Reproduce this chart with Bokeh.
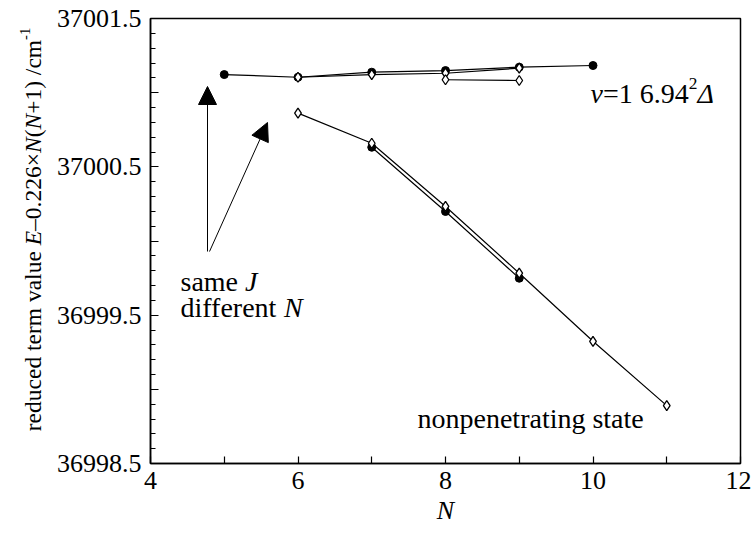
import math
from bokeh.plotting import figure
from bokeh.layouts import row
from bokeh.models import Label, Arrow, NormalHead, FixedTicker, CustomJSTickFormatter
from bokeh.embed import file_html
from bokeh.resources import INLINE

# ---------------- data ----------------
N_up_filled = [5, 6, 7, 8, 9, 10]
E_up_filled = [37001.122, 37001.104, 37001.138, 37001.149, 37001.172, 37001.183]

N_up_diam_a = [6, 7, 8, 9]
E_up_diam_a = [37001.104, 37001.122, 37001.131, 37001.165]

N_up_diam_b = [8, 9]
E_up_diam_b = [37001.087, 37001.082]

N_low_diam = [6, 7, 8, 9, 10, 11]
E_low_diam = [37000.862, 37000.659, 37000.233, 36999.783, 36999.324, 36998.890]

N_low_filled = [7, 8, 9]
E_low_filled = [37000.632, 37000.199, 36999.749]

x_major = [4, 6, 8, 10, 12]
x_minor = [5, 7, 9, 11]
y_major = [36998.5, 36999.0, 36999.5, 37000.0, 37000.5, 37001.0, 37001.5]
y_minor = [round(36998.5 + 0.1 * i, 1) for i in range(31)]

# ---------------- layout ----------------
W, H = 751, 533
OFF = 50                       # width of the strip holding the y-axis title
L, R, T, B = 150, 11, 18, 70   # frame margins in page pixels
XR = (4, 12)
YR = (36998.5, 37001.5)
FW = W - L - R
FH = H - T - B
FONT = "Liberation Serif"


def dx(px):
    return XR[0] + (px - L) * (XR[1] - XR[0]) / FW


def dy(py):
    return YR[1] - (py - T) * (YR[1] - YR[0]) / FH


REG = {' ': 250, '(': 333, ')': 333, '+': 564, '-': 333, '.': 250, '/': 278,
       '=': 564, '\u00d7': 564, '\u2013': 500, '\u0394': 612,
       'a': 444, 'b': 500, 'c': 444, 'd': 500, 'e': 444, 'f': 333, 'g': 500,
       'h': 500, 'i': 278, 'j': 278, 'k': 500, 'l': 278, 'm': 778, 'n': 500,
       'o': 500, 'p': 500, 'q': 500, 'r': 333, 's': 389, 't': 278, 'u': 500,
       'v': 500, 'w': 722, 'x': 500, 'y': 500, 'z': 444,
       'E': 611, 'N': 722, 'J': 389}
ITA = {'E': 611, 'N': 667, 'J': 444, 'v': 444, '\u0394': 612}


def tw(s, italic, size):
    total = 0
    for c in s:
        if italic and c in ITA:
            total += ITA[c]
        else:
            total += REG.get(c, 500)
    return total * size / 1000.0


def rich(fig, pieces, px, py, size, vertical=False):
    """Place mixed-style text at canvas pixels (px, py) of the given figure."""
    pos = 0.0
    for txt, ital, sup in pieces:
        fs = size * 0.62 if sup else size
        rise = size * 0.34 if sup else 0
        stripped = txt.lstrip()
        lead = txt[:len(txt) - len(stripped)]
        pos += tw(lead, ital, fs)
        shown = stripped.rstrip()
        if shown:
            if vertical:
                ax, ay = px - rise, py - pos
            else:
                ax, ay = px + pos, py - rise
            fig.add_layout(Label(x=ax, y=ay, x_units="canvas", y_units="canvas",
                                 text=shown,
                                 angle=math.pi / 2 if vertical else 0,
                                 text_font=FONT, text_font_size=f"{fs:.1f}px",
                                 text_font_style="italic" if ital else "normal",
                                 text_baseline="alphabetic", text_align="left",
                                 text_color="black"))
        pos += tw(stripped, ital, fs)
    return pos


# ---- strip with the y-axis title ----
lab = figure(width=OFF, height=H, x_range=(0, 1), y_range=(0, 1),
             x_axis_type=None, y_axis_type=None,
             output_backend="svg", toolbar_location=None,
             min_border=0, min_border_left=0, min_border_right=0,
             min_border_top=0, min_border_bottom=0)
lab.outline_line_color = None
lab.xgrid.visible = False
lab.ygrid.visible = False
lab.background_fill_color = "white"
lab.border_fill_color = "white"

ylab = [("reduced term value ", False, False), ("E", True, False),
        ("\u20130.226\u00d7", False, False), ("N", True, False), ("(", False, False),
        ("N", True, False), ("+1) /cm", False, False), ("-1", False, True)]
YFS = 23.5
total = sum(tw(t, i, YFS * 0.62 if s else YFS) for t, i, s in ylab)
rich(lab, ylab, 32, 229 + total / 2, YFS, vertical=True)

# ---- main plot ----
p = figure(width=W - OFF, height=H, x_range=XR, y_range=YR,
           output_backend="svg", toolbar_location=None,
           min_border_left=L - OFF, min_border_right=R, min_border_top=T,
           min_border_bottom=B)
p.background_fill_color = "white"
p.border_fill_color = "white"
p.xgrid.visible = False
p.ygrid.visible = False
p.outline_line_color = "black"
p.outline_line_width = 1.5

for ax in (p.xaxis[0], p.yaxis[0]):
    ax.axis_line_color = "black"
    ax.axis_line_width = 1.5
    ax.major_tick_line_color = "black"
    ax.minor_tick_line_color = "black"
    ax.major_tick_line_width = 1.2
    ax.minor_tick_line_width = 1.2
    ax.major_tick_out = 0
    ax.minor_tick_out = 0
    ax.major_label_text_font = FONT
    ax.major_label_text_font_size = "26px"
    ax.major_label_text_color = "black"

p.xaxis.ticker = FixedTicker(ticks=x_major, minor_ticks=x_minor)
p.xaxis.major_tick_in = 7
p.xaxis.minor_tick_in = 7
p.xaxis.major_label_standoff = 8
p.xaxis.axis_label = "N"
p.xaxis.axis_label_text_font = FONT
p.xaxis.axis_label_text_font_style = "italic"
p.xaxis.axis_label_text_font_size = "26px"
p.xaxis.axis_label_standoff = 4
p.xaxis.axis_label_text_color = "black"

p.yaxis.ticker = FixedTicker(ticks=y_major, minor_ticks=y_minor)
p.yaxis.formatter = CustomJSTickFormatter(
    code="return (Math.abs(((tick*2) % 2) - 1) < 1e-6) ? tick.toFixed(1) : '';")
p.yaxis.major_tick_in = 8
p.yaxis.minor_tick_in = 5
p.yaxis.major_label_standoff = 9

# lines
for xs, ys in [(N_up_filled, E_up_filled), (N_up_diam_a, E_up_diam_a),
               (N_up_diam_b, E_up_diam_b), (N_low_diam, E_low_diam),
               (N_low_filled, E_low_filled)]:
    p.line(xs, ys, line_color="black", line_width=1.2)

# markers
for xs, ys in [(N_up_filled, E_up_filled), (N_low_filled, E_low_filled)]:
    p.scatter(xs, ys, marker="circle", size=8, fill_color="black", line_color="black")
for xs, ys in [(N_up_diam_a, E_up_diam_a), (N_up_diam_b, E_up_diam_b),
               (N_low_diam, E_low_diam)]:
    p.scatter(xs, ys, marker="diamond", size=10, fill_color="white",
              line_color="black", line_width=1.3)

# arrows
p.add_layout(Arrow(end=NormalHead(size=18, fill_color="black", line_color="black"),
                   x_start=dx(207), y_start=dy(251), x_end=dx(207), y_end=dy(86),
                   line_color="black", line_width=1))
p.add_layout(Arrow(end=NormalHead(size=18, fill_color="black", line_color="black"),
                   x_start=dx(209), y_start=dy(251), x_end=dx(267), y_end=dy(122),
                   line_color="black", line_width=1))

# in-plot texts (page pixels shifted into the main figure's canvas)
TFS = 28
rich(p, [("same ", False, False), ("J", True, False)], 180 - OFF, 281, TFS)
rich(p, [("different ", False, False), ("N", True, False)], 180 - OFF, 307, TFS)
rich(p, [("v", True, False), ("=1 6.94", False, False), ("2", False, True),
         ("\u0394", True, False)], 590 - OFF, 93, TFS)
rich(p, [("nonpenetrating state", False, False)], 417 - OFF, 418, TFS)

layout = row(lab, p, spacing=0)
open("out.html", "w").write(file_html(layout, INLINE))
